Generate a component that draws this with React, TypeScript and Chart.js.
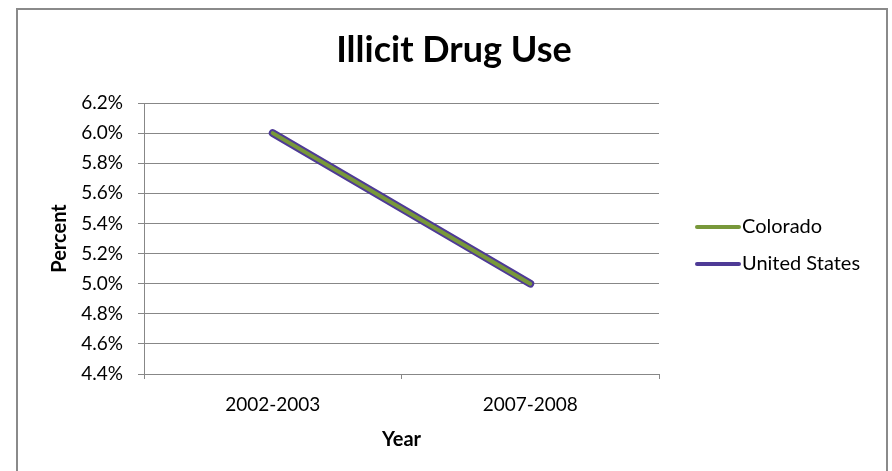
import React, { useEffect, useRef } from 'react';
import { Chart, registerables } from 'chart.js';

Chart.register(...registerables);

// ---- data ----
const categories: string[] = ['2002-2003', '2007-2008'];
const coloradoValues: number[] = [6.0, 5.0];
const unitedStatesValues: number[] = [6.0, 5.0];
const seriesNames: string[] = ['Colorado', 'United States'];
const chartTitle = 'Illicit Drug Use';
const yAxisTitle = 'Percent';
const xAxisTitle = 'Year';
const yMin = 4.4;
const yMax = 6.2;
const yStep = 0.2;

// ---- styles ----
const FONT = 'Lato, "Noto Sans", sans-serif';
const GREEN = '#78983A';
const PURPLE = '#4E3A96';
const GRID = '#878787';

const framePlugin = {
  id: 'frameAndText',
  beforeDraw(chart: any) {
    const ctx = chart.ctx;
    ctx.save();
    ctx.fillStyle = '#ffffff';
    ctx.fillRect(0, 0, chart.width, chart.height);
    ctx.strokeStyle = '#8a8a8a';
    ctx.lineWidth = 2;
    ctx.strokeRect(17, 9, 870, 470);
    ctx.restore();
  },
  afterDraw(chart: any) {
    const ctx = chart.ctx;
    ctx.save();
    // title
    ctx.fillStyle = '#000';
    ctx.font = `bold 36px ${FONT}`;
    ctx.textAlign = 'center';
    ctx.textBaseline = 'middle';
    ctx.fillText(chartTitle, 454, 50);
    // legend
    const ds = chart.data.datasets;
    const ys = [227, 264];
    ds.forEach((d: any, i: number) => {
      const y = ys[i];
      ctx.strokeStyle = d.legendColor;
      ctx.lineWidth = 4;
      ctx.lineCap = 'round';
      ctx.beginPath();
      ctx.moveTo(697, y);
      ctx.lineTo(739, y);
      ctx.stroke();
      ctx.fillStyle = '#000';
      ctx.font = `20px ${FONT}`;
      ctx.textAlign = 'left';
      ctx.textBaseline = 'middle';
      ctx.fillText(d.label, 742, y);
    });
    ctx.restore();
  },
};

export default function App() {
  const ref = useRef<HTMLCanvasElement | null>(null);

  useEffect(() => {
    document.body.style.margin = '0';
    const canvas = ref.current;
    if (!canvas) return;
    const chart = new Chart(canvas, {
      type: 'line',
      data: {
        labels: categories,
        datasets: [
          {
            label: seriesNames[0],
            data: coloradoValues,
            borderColor: GREEN,
            legendColor: GREEN,
            borderWidth: 4,
            pointRadius: 0,
            borderCapStyle: 'round',
            borderJoinStyle: 'round',
            fill: false,
            tension: 0,
          } as any,
          {
            label: seriesNames[1],
            data: unitedStatesValues,
            borderColor: PURPLE,
            legendColor: PURPLE,
            borderWidth: 8,
            pointRadius: 0,
            borderCapStyle: 'round',
            borderJoinStyle: 'round',
            fill: false,
            tension: 0,
          } as any,
        ],
      },
      options: {
        animation: false,
        responsive: false,
        devicePixelRatio: 1,
        layout: { padding: { left: 48, right: 233, top: 103, bottom: 0 } },
        plugins: {
          legend: { display: false },
          title: { display: false },
          tooltip: { enabled: false },
        },
        scales: {
          x: {
            type: 'category',
            offset: true,
            grid: {
              display: true,
              drawOnChartArea: false,
              drawTicks: true,
              tickLength: 5,
              offset: true,
              color: GRID,
            },
            border: { color: GRID, width: 1 },
            ticks: {
              color: '#000',
              font: { family: FONT, size: 19 },
              padding: 14,
              maxRotation: 0,
            },
            title: {
              display: true,
              text: xAxisTitle,
              color: '#000',
              font: { family: FONT, size: 20, weight: 'bold' },
              padding: { top: 0, bottom: 19 },
            },
            afterFit: (s: any) => {
              s.height = 97;
            },
          },
          y: {
            type: 'linear',
            min: yMin,
            max: yMax,
            grid: { color: GRID, tickLength: 6, drawTicks: true },
            border: { color: GRID, width: 1 },
            ticks: {
              stepSize: yStep,
              color: '#000',
              font: { family: FONT, size: 19 },
              padding: 15,
              callback: (v: any) => Number(v).toFixed(1) + '%',
            },
            title: {
              display: true,
              text: yAxisTitle,
              color: '#000',
              font: { family: FONT, size: 20, weight: 'bold' },
              padding: { top: 0, bottom: 0 },
            },
            afterFit: (s: any) => {
              s.width = 144 - 48;
            },
          },
        },
      } as any,
      plugins: [framePlugin],
    });
    return () => chart.destroy();
  }, []);

  return <canvas ref={ref} width={892} height={471} style={{ display: 'block' }} />;
}
